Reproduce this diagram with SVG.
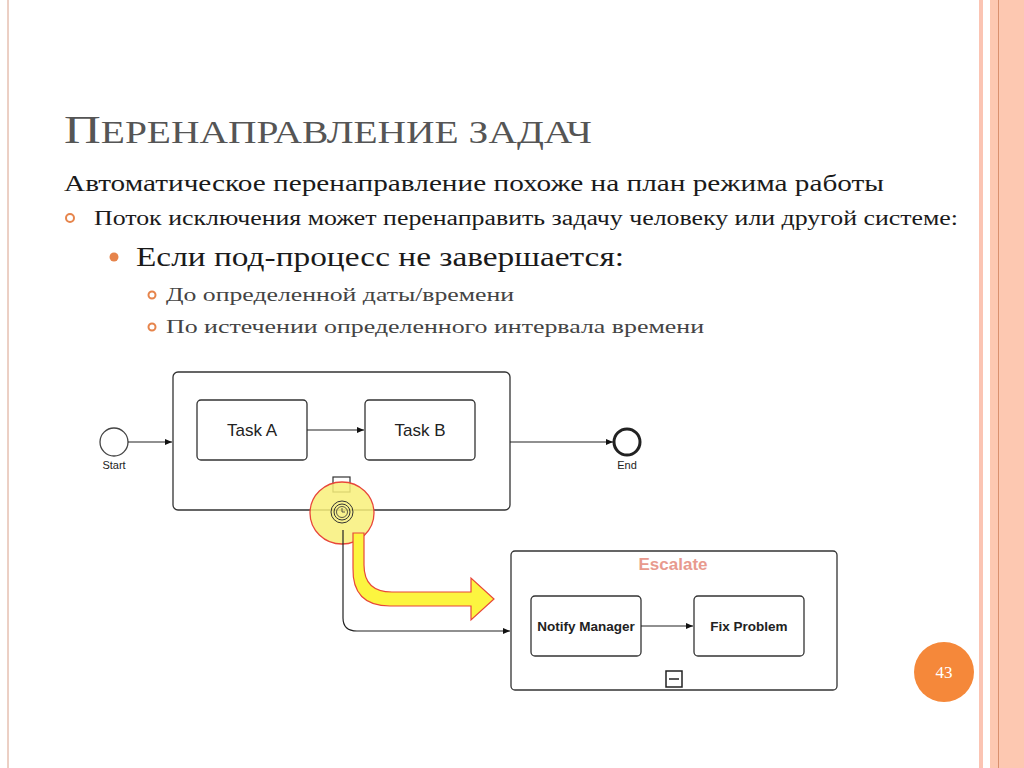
<svg xmlns="http://www.w3.org/2000/svg" width="1024" height="768" viewBox="0 0 1024 768">
<style>
.t{font-family:"Liberation Serif",serif;fill:#1a1a1a}
.b{fill:#fff;stroke:#333;stroke-width:1.3}
.l{font-family:"Liberation Sans",Arial,sans-serif;fill:#222}
.c{stroke:#222;stroke-width:1.2;fill:none}
</style>
<defs><marker id="a" markerWidth="8" markerHeight="8" refX="7" refY="4" orient="auto" markerUnits="userSpaceOnUse"><path d="M0,1 L7,4 L0,7Z" fill="#111"/></marker></defs>
<rect width="1024" height="768" fill="#fff"/>
<line x1="8" y1="0" x2="8" y2="768" stroke="#d9a08a" stroke-width="1"/>
<rect x="979" y="0" width="4" height="768" fill="#fbc4b3"/>
<rect x="990" y="0" width="34" height="768" fill="#fdc8b1"/>
<line x1="998.5" y1="0" x2="998.5" y2="768" stroke="#d9906e" stroke-width="1"/>
<text class="t" x="64" y="143" font-size="40" style="fill:#555" textLength="528" lengthAdjust="spacingAndGlyphs">П<tspan font-size="31">ЕРЕНАПРАВЛЕНИЕ ЗАДАЧ</tspan></text>
<text class="t" x="64" y="191" font-size="24" textLength="820" lengthAdjust="spacingAndGlyphs">Автоматическое перенаправление похоже на план режима работы</text>
<circle cx="70" cy="218" r="4" fill="none" stroke="#e6844b" stroke-width="2"/>
<text class="t" x="94" y="225" font-size="20" textLength="864" lengthAdjust="spacingAndGlyphs">Поток исключения может перенаправить задачу человеку или другой системе:</text>
<circle cx="114" cy="257" r="4.5" fill="#e6844b"/>
<text class="t" x="136" y="266" font-size="27" textLength="488" lengthAdjust="spacingAndGlyphs">Если под-процесс не завершается:</text>
<circle cx="152" cy="295" r="3.5" fill="none" stroke="#e6844b" stroke-width="2"/>
<text class="t" x="166" y="301" font-size="19" style="fill:#444" textLength="348" lengthAdjust="spacingAndGlyphs">До определенной даты/времени</text>
<circle cx="152" cy="327" r="3.5" fill="none" stroke="#e6844b" stroke-width="2"/>
<text class="t" x="166" y="333" font-size="19" style="fill:#444" textLength="538" lengthAdjust="spacingAndGlyphs">По истечении определенного интервала времени</text>
<g id="start"><circle cx="114" cy="442" r="14" fill="#fff" stroke="#444" stroke-width="1.3"/><text class="l" x="114" y="469" font-size="11" text-anchor="middle">Start</text></g>
<g id="subprocess"><rect class="b" x="173" y="372" width="337" height="138" rx="5"/></g>
<g id="taskA"><rect class="b" x="197" y="400" width="110" height="60" rx="4"/><text class="l" x="252" y="436" font-size="17" text-anchor="middle">Task A</text></g>
<g id="taskB"><rect class="b" x="365" y="400" width="110" height="60" rx="4"/><text class="l" x="420" y="436" font-size="17" text-anchor="middle">Task B</text></g>
<g id="end"><circle cx="627" cy="442" r="13" fill="#fff" stroke="#222" stroke-width="3"/><text class="l" x="627" y="469" font-size="11" text-anchor="middle">End</text></g>
<g id="timer">
<rect x="333" y="477" width="17" height="15" fill="none" stroke="#333" stroke-width="1.2"/>
<ellipse cx="342" cy="513" rx="32" ry="31" fill="#f8f07a" fill-opacity="0.85" stroke="#e8463a" stroke-width="1.3"/>
<circle cx="342" cy="512" r="11" fill="none" stroke="#333"/>
<circle cx="342" cy="512" r="8" fill="none" stroke="#333"/>
<circle cx="342" cy="512" r="5.5" fill="none" stroke="#333" stroke-width="0.8"/>
<path d="M342,508 V512 H345" stroke="#333" fill="none" stroke-width="0.8"/>
</g>
<g id="yellowArrow"><path d="M353,533 H364 V565 Q364,592 392,592 H471 V578 L494,599 L471,620 V606 H390 Q352,606 353,568 Z" fill="#fcf540" stroke="#e8463a" stroke-width="1.2"/></g>
<g id="escalate"><rect class="b" x="511" y="551" width="326" height="139" rx="4"/><text x="673" y="570" font-family="Liberation Sans,Arial,sans-serif" font-size="17" font-weight="bold" fill="#e89a8e" text-anchor="middle">Escalate</text>
<rect x="666" y="671" width="16" height="16" fill="#fff" stroke="#222" stroke-width="1.5"/><line x1="669" y1="679" x2="679" y2="679" stroke="#222" stroke-width="1.5"/></g>
<g id="notify"><rect class="b" x="531" y="596" width="110" height="60" rx="4"/><text class="l" x="586" y="631" font-size="13.5" font-weight="bold" text-anchor="middle">Notify Manager</text></g>
<g id="fix"><rect class="b" x="694" y="596" width="110" height="60" rx="4"/><text class="l" x="749" y="631" font-size="13.5" font-weight="bold" text-anchor="middle">Fix Problem</text></g>
<g id="connectors">
<line class="c" x1="128" y1="442" x2="172" y2="442" marker-end="url(#a)"/>
<line class="c" x1="307" y1="430" x2="364" y2="430" marker-end="url(#a)"/>
<line class="c" x1="510" y1="442" x2="613" y2="442" marker-end="url(#a)"/>
<path class="c" d="M343,530 V618 Q343,631 357,631 H510" marker-end="url(#a)"/>
<line class="c" x1="641" y1="626" x2="693" y2="626" marker-end="url(#a)"/>
</g>
<g id="page"><circle cx="944" cy="672" r="30" fill="#f5883a"/><text x="944" y="678" font-family="Liberation Serif,serif" font-size="17" fill="#fff" text-anchor="middle">43</text></g>
</svg>
